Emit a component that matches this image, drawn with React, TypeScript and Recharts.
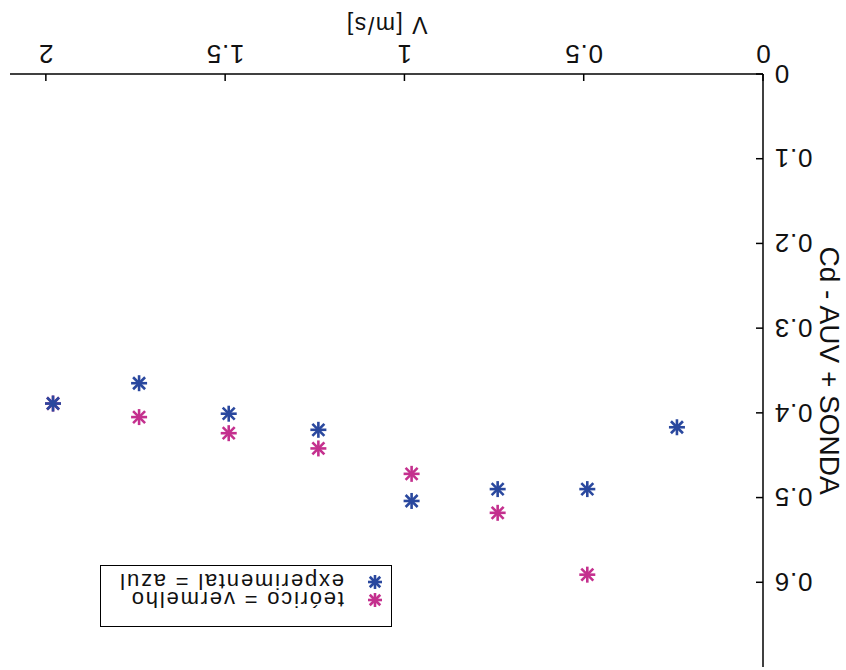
import { ScatterChart, Scatter, XAxis, YAxis, Legend } from 'recharts';

// Velocidade [m/s] e Cd medidos / calculados
const expSpeed = [0.24, 0.49, 0.74, 0.98, 1.24, 1.49, 1.74, 1.98];
const expCd = [0.417, 0.49, 0.49, 0.504, 0.42, 0.401, 0.365, 0.389];
const teoSpeed = [0.49, 0.74, 0.98, 1.24, 1.49, 1.74, 1.98];
const teoCd = [0.591, 0.518, 0.472, 0.442, 0.424, 0.405, 0.389];

const xTicks = [0, 0.5, 1, 1.5, 2];
const yTicks = [0, 0.1, 0.2, 0.3, 0.4, 0.5, 0.6];

const seriesNames = ['teórico = vermelho', 'experimental = azul'];
const seriesColors = ['#c4308e', '#2a489e'];

const expData = expSpeed.map((v, i) => ({ v, cd: expCd[i] }));
const teoData = teoSpeed.map((v, i) => ({ v, cd: teoCd[i] }));

const FONT = '"Liberation Sans", Arial, Helvetica, sans-serif';
const TICK_LEN = 7;
const TICK_GAP = 11;

function Asterisk({ cx, cy, color, r = 8 }: { cx: number; cy: number; color: string; r?: number }) {
  const d = r * 0.75;
  return (
    <g stroke={color} strokeWidth={2.6}>
      <line x1={cx - r} y1={cy} x2={cx + r} y2={cy} />
      <line x1={cx} y1={cy - r} x2={cx} y2={cy + r} />
      <line x1={cx - d} y1={cy - d} x2={cx + d} y2={cy + d} />
      <line x1={cx - d} y1={cy + d} x2={cx + d} y2={cy - d} />
    </g>
  );
}

// ticks point into the plot, labels sit outside
function XTick({ x, y, payload }: any) {
  const axisY = y - TICK_GAP;
  return (
    <g>
      <line x1={x} y1={axisY} x2={x} y2={axisY - TICK_LEN} stroke="#000" strokeWidth={1.5} />
      <text x={x} y={y} dy="0.71em" textAnchor="middle" fontFamily={FONT} fontSize={26} letterSpacing={0.8} fill="#111">
        {String(payload.value)}
      </text>
    </g>
  );
}

function YTick({ x, y, payload }: any) {
  const axisX = x + TICK_GAP;
  return (
    <g>
      <line x1={axisX} y1={y} x2={axisX + TICK_LEN} y2={y} stroke="#000" strokeWidth={1.5} />
      <text x={x} y={y} dy="0.355em" textAnchor="end" fontFamily={FONT} fontSize={26} letterSpacing={0.8} fill="#111">
        {String(payload.value)}
      </text>
    </g>
  );
}

function LegendBox() {
  return (
    <div style={{ width: 292, height: 62, boxSizing: 'border-box', border: '1.5px solid #000', background: '#fff' }}>
      <svg width={289} height={59}>
        {seriesNames.map((name, i) => (
          <g key={name}>
            <Asterisk cx={16} cy={26 + i * 18} color={seriesColors[i]} r={7} />
            <text x={47} y={34 + i * 18} fontFamily={FONT} fontSize={22} letterSpacing={1.8} fill="#111">
              {name}
            </text>
          </g>
        ))}
      </svg>
    </div>
  );
}

export default function App() {
  return (
    <div
      style={{
        position: 'absolute',
        left: 0,
        top: 0,
        width: 846,
        height: 670,
        background: '#fff',
        transform: 'rotate(180deg)',
      }}
    >
      <ScatterChart width={846} height={670} margin={{ top: 3, right: 10, bottom: 0, left: 0 }}>
        <XAxis
          type="number"
          dataKey="v"
          domain={[0, 2.1]}
          ticks={xTicks}
          allowDataOverflow
          height={74}
          tickSize={0}
          tickMargin={TICK_GAP}
          tickLine={false}
          tick={<XTick />}
          axisLine={{ stroke: '#000', strokeWidth: 1.5 }}
          label={{ value: 'V [m/s]', position: 'insideBottom', offset: 17, style: { fontFamily: FONT, fontSize: 23, letterSpacing: 1.5, fill: '#111' } }}
        />
        <YAxis
          type="number"
          dataKey="cd"
          domain={[0, 0.7]}
          ticks={yTicks}
          allowDataOverflow
          width={83}
          tickSize={0}
          tickMargin={TICK_GAP}
          tickLine={false}
          tick={<YTick />}
          axisLine={{ stroke: '#000', strokeWidth: 1.5 }}
          label={{ value: 'Cd - AUV + SONDA', angle: -90, position: 'insideLeft', offset: 16, style: { textAnchor: 'middle', fontFamily: FONT, fontSize: 28, fill: '#111' } }}
        />
        <Legend
          layout="vertical"
          align="center"
          verticalAlign="middle"
          content={() => <LegendBox />}
          wrapperStyle={{ left: 454, top: 43, width: 292, height: 62 }}
        />
        <Scatter
          name={seriesNames[0]}
          data={teoData}
          isAnimationActive={false}
          shape={(p: any) => <Asterisk cx={p.cx} cy={p.cy} color={seriesColors[0]} />}
        />
        <Scatter
          name={seriesNames[1]}
          data={expData}
          isAnimationActive={false}
          shape={(p: any) => <Asterisk cx={p.cx} cy={p.cy} color={seriesColors[1]} />}
        />
      </ScatterChart>
    </div>
  );
}
